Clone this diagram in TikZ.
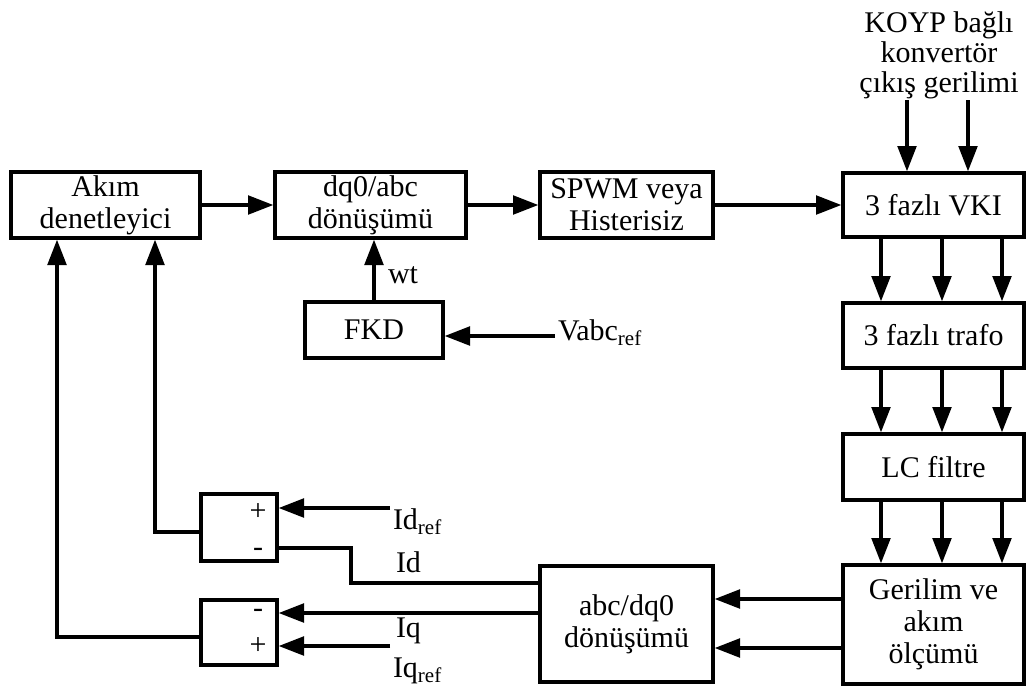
\documentclass[tikz,border=0pt]{standalone}
\usepackage{fontspec}
\setmainfont{Liberation Serif}
\usetikzlibrary{arrows.meta}
\begin{document}
\begin{tikzpicture}[x=0.75pt, y=-0.75pt, line width=2.5pt,
		>={Triangle[length=19pt,width=14pt]},
		font=\fontsize{22.5}{24}\selectfont,
		box/.style 2 args={draw, align=center, inner sep=0pt,
			minimum width=#1*0.75pt, minimum height=#2*0.75pt},
		lbl/.style={inner sep=1pt}]
	\useasboundingbox (0,0) rectangle (1027,686);
	% blocks
	\node[box={189}{66}] (akim) at (105.5,205) {Akım\\denetleyici};
	\node[box={191}{66}] (dqabc) at (370.5,205) {dq0/abc\\dönüşümü};
	\node[box={173}{66}] (spwm) at (626.5,205) {SPWM veya\\Histerisiz};
	\node[box={181}{64}] (vki) at (933.5,205) {3 fazlı VKI};
	\node[box={181}{65}] (trafo) at (933.5,335.5) {3 fazlı trafo};
	\node[box={181}{66}] (lc) at (933.5,467) {LC filtre};
	\node[box={181}{119}] (olcum) at (933.5,624.5) {Gerilim ve\\akım\\ölçümü};
	\node[box={173}{116}] (abcdq) at (626.5,624) {abc/dq0\\dönüşümü};
	\node[box={138}{56}] (fkd) at (374,330) {FKD};
	% comparators
	\node[box={76}{67}] (sumd) at (239,527.5) {};
	\node[box={76}{65}] (sumq) at (239,632.5) {};
	\node[lbl] (sumd_p) at (258,512) {+};
	\node[lbl] (sumd_m) at (258,552) {-};
	\node[lbl] (sumq_m) at (258,613) {-};
	\node[lbl] (sumq_p) at (258,646) {+};
	% signal labels
	\node[align=center, inner sep=0pt, font=\fontsize{22.5}{22.5}\selectfont] (koyp) at (939,55)
		{KOYP bağlı\\konvertör\\çıkış gerilimi};
	\node[lbl, anchor=base west] (wt) at (385,283) {wt};
	\node[lbl, anchor=base west] (vabc) at (555,340) {Vabc\textsubscript{ref}};
	\node[lbl, anchor=base west] (idref) at (390,529) {Id\textsubscript{ref}};
	\node[lbl, anchor=base west] (id) at (393,572) {Id};
	\node[lbl, anchor=base west] (iq) at (393,637) {Iq};
	\node[lbl, anchor=base west] (iqref) at (390,677) {Iq\textsubscript{ref}};
	% helper rows and columns
	\coordinate (k1) at (907,0);
	\coordinate (k2) at (968,0);
	\coordinate (yv) at (0,336);
	\coordinate (ydr) at (0,508);
	\coordinate (ydm) at (0,548);
	\coordinate (yid) at (0,583);
	\coordinate (xid) at (351,0);
	\coordinate (yiq) at (0,613);
	\coordinate (yqr) at (0,646);
	\coordinate (ym1) at (0,599);
	\coordinate (ym2) at (0,648);
	\coordinate (yd) at (0,532);
	\coordinate (yq) at (0,637);
	\coordinate (x1) at (57,0);
	\coordinate (x2) at (155,0);
	% edges
	\draw[->] (akim.east) -- (dqabc.west);
	\draw[->] (dqabc.east) -- (spwm.west);
	\draw[->] (spwm.east) -- (vki.west);
	\draw[->] (koyp.south -| k1) -- (vki.north -| k1);
	\draw[->] (koyp.south -| k2) -- (vki.north -| k2);
	\foreach \xx in {881,942,1002}
	{
		\coordinate (ph) at (\xx,0);
		\draw[->] (vki.south -| ph) -- (trafo.north -| ph);
		\draw[->] (trafo.south -| ph) -- (lc.north -| ph);
		\draw[->] (lc.south -| ph) -- (olcum.north -| ph);
	}
	\draw[->] (olcum.west |- ym1) -- (abcdq.east |- ym1);
	\draw[->] (olcum.west |- ym2) -- (abcdq.east |- ym2);
	\draw[->] (fkd.north) -- (fkd.north |- dqabc.south);
	\draw[->] (vabc.west |- yv) -- (fkd.east |- yv);
	\draw[->] (idref.west |- ydr) -- (sumd.east |- ydr);
	\draw (abcdq.west |- yid) -- (xid |- yid) -- (xid |- ydm) -- (sumd.east |- ydm);
	\draw[->] (abcdq.west |- yiq) -- (sumq.east |- yiq);
	\draw[->] (iqref.west |- yqr) -- (sumq.east |- yqr);
	\draw[->] (sumd.west |- yd) -- (x2 |- yd) -- (x2 |- akim.south);
	\draw[->] (sumq.west |- yq) -- (x1 |- yq) -- (x1 |- akim.south);
\end{tikzpicture}
\end{document}
